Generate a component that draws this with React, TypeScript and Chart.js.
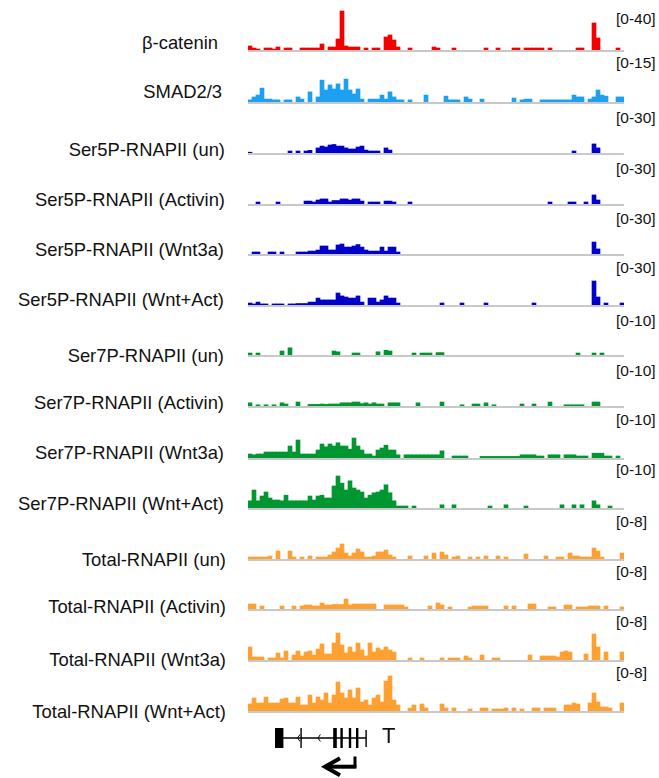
import React, { useEffect, useRef } from "react";
import { Chart, registerables } from "chart.js";
Chart.register(...registerables);

// ---------- data ----------
const NBINS = 94; // genomic bins across the locus
const BINS = Array.from({ length: NBINS }, (_, i) => String(i));

type Pair = [number, number];

const BCAT: Pair[] = [[0,4],[1,2],[2,1],[4,2],[5,2],[6,1],[7,3],[9,2],[10,2],[13,2],[14,2],[15,2],[16,2],[17,2],[18,6],[20,3],[21,3],[22,11],[23,39],[24,4],[25,3],[26,3],[27,3],[29,2],[31,2],[32,2],[34,13],[35,15],[36,10],[37,3],[40,2],[46,3],[47,2],[51,2],[59,2],[62,2],[66,2],[67,2],[69,2],[70,2],[71,2],[72,2],[73,2],[75,2],[82,2],[83,2],[86,27],[87,12],[92,2]];
const SMAD: Pair[] = [[0,0.8],[1,1.9],[2,2.6],[3,5.2],[4,1.1],[5,1.1],[6,0.8],[7,0.8],[9,0.8],[10,0.8],[12,1.9],[13,1.1],[15,3.8],[17,1.9],[18,8.2],[19,4.5],[20,6.4],[21,4.9],[22,6.8],[23,4.5],[24,8.6],[25,4.5],[26,3.0],[27,4.9],[28,1.1],[30,1.1],[31,1.1],[32,1.1],[33,2.6],[34,1.1],[35,3.8],[36,1.9],[37,0.8],[38,0.8],[40,0.8],[44,2.6],[49,2.2],[50,0.8],[51,0.8],[52,0.8],[54,1.9],[55,1.1],[58,1.1],[66,1.5],[68,0.8],[69,1.1],[70,1.1],[73,0.8],[74,0.8],[75,0.8],[76,0.8],[77,0.8],[78,0.8],[79,0.8],[80,0.8],[81,2.6],[82,1.9],[83,1.9],[85,1.1],[86,1.9],[87,4.5],[88,2.6],[89,2.2],[92,1.9],[93,1.9]];
const SER5_UN: Pair[] = [[0,0.6],[10,1.5],[12,1.5],[14,1.5],[15,2],[17,3.8],[18,5.2],[19,4.5],[20,6],[21,6.4],[22,5.2],[23,5.2],[24,3.8],[25,3],[26,3],[27,4.5],[28,5.2],[29,2.2],[30,1.5],[31,1.5],[32,1.5],[34,3.8],[35,2.2],[81,1.5],[86,6.8],[87,3.8]];
const SER5_ACT: Pair[] = [[2,1.5],[7,1.5],[14,2.2],[15,2.2],[16,1.5],[17,3],[18,3.8],[19,3.8],[20,1.5],[21,2.6],[22,2.6],[23,3.8],[24,3.8],[25,3],[26,3.8],[27,3.8],[28,2.2],[30,1.5],[31,1.5],[32,1.5],[34,2.2],[35,2.2],[36,1.5],[40,1.5],[75,1.5],[80,1.5],[81,1.5],[84,1.5],[86,6.8],[87,3]];
const SER5_WNT: Pair[] = [[1,1.5],[2,1.5],[5,1.5],[6,1.5],[8,1.5],[12,1.5],[13,1.5],[14,1.5],[15,2.2],[16,2.2],[17,3],[18,6],[19,6],[20,3],[21,3],[22,6.8],[23,7.5],[24,5.2],[25,5.2],[26,6],[27,7.1],[28,5.2],[29,3],[30,2.2],[31,2.2],[32,2.2],[33,5.2],[34,2.2],[35,5.2],[36,5.2],[37,1.5],[86,9],[87,3.8]];
const SER5_WA: Pair[] = [[0,1.5],[1,0.8],[2,2.2],[3,0.8],[4,0.8],[6,0.8],[7,0.8],[8,0.8],[10,0.8],[11,0.8],[12,1.1],[13,1.1],[14,1.1],[15,2.2],[16,2.2],[17,5.2],[18,3.8],[19,3.8],[20,3.8],[21,3.8],[22,9],[23,6.8],[24,6],[25,5.2],[26,5.2],[27,6.8],[28,2.2],[30,5.2],[31,5.2],[32,2.2],[33,3.8],[34,6.8],[35,5.2],[36,5.2],[37,1.5],[48,1.5],[53,1.5],[59,1.5],[71,1.5],[86,18],[87,6],[89,1.5],[93,1.5]];
const SER7_UN: Pair[] = [[0,0.5],[2,0.5],[8,1],[10,1.8],[21,1],[22,0.8],[26,0.5],[27,0.5],[32,0.8],[34,1.2],[35,1],[41,0.5],[43,0.5],[44,0.5],[45,0.5],[47,0.6],[48,0.6],[82,0.5],[86,0.5],[88,0.5]];
const SER7_ACT: Pair[] = [[0,0.8],[2,0.3],[4,0.3],[6,0.3],[8,0.8],[9,0.5],[12,1],[15,0.4],[16,0.4],[17,0.4],[18,0.5],[19,0.4],[20,0.5],[21,0.5],[22,0.5],[23,0.8],[24,0.8],[25,0.8],[26,1],[27,1],[28,0.6],[29,0.8],[30,0.5],[31,0.8],[32,0.5],[33,0.5],[35,0.8],[36,0.8],[37,0.8],[42,0.8],[48,1],[53,0.3],[56,0.5],[57,0.5],[59,0.8],[61,0.3],[68,0.5],[71,0.5],[75,1],[79,0.3],[80,0.3],[81,0.3],[82,0.3],[83,0.3],[86,1],[87,1]];
const SER7_WNT: Pair[] = [[0,1],[1,0.8],[2,1],[3,1],[4,1.5],[5,1.5],[6,1.5],[7,1.5],[8,1.5],[9,1.5],[10,3],[11,1.5],[12,4.5],[13,1],[14,1],[15,1],[16,1],[17,2],[18,3.5],[19,2.8],[20,3.5],[21,3],[22,3.8],[23,3],[24,3],[25,2.2],[26,5],[27,3],[28,2],[29,1],[30,1],[31,0.5],[32,2],[33,2.5],[34,3.2],[35,2],[36,2],[37,0.8],[39,0.8],[40,0.8],[41,0.8],[42,0.8],[43,0.8],[44,0.8],[45,0.8],[46,0.8],[47,0.8],[48,1.8],[51,0.5],[52,0.5],[53,0.5],[54,0.5],[58,0.4],[59,0.4],[60,0.4],[61,0.4],[62,0.4],[63,0.4],[64,0.4],[65,0.4],[66,0.4],[67,0.4],[68,0.8],[69,0.8],[70,0.8],[71,0.8],[72,0.5],[73,0.5],[75,0.8],[76,0.8],[77,0.8],[79,0.8],[80,0.8],[81,0.8],[82,0.5],[83,0.5],[84,0.5],[86,1.2],[87,1.2],[88,1.2],[89,0.5],[90,0.5],[92,0.5]];
const SER7_WA: Pair[] = [[0,1.8],[1,4.5],[2,1.8],[3,3],[4,4],[5,2.5],[6,2],[7,2],[8,1.8],[9,3.2],[10,1.8],[11,1.8],[12,1.8],[13,1.8],[14,1.8],[15,3],[16,2],[17,3],[18,3.2],[19,2.5],[20,2.5],[21,5.5],[22,8],[23,6.2],[24,4.5],[25,6.8],[26,5],[27,4.5],[28,4],[29,2.5],[30,3.2],[31,3.8],[32,4],[33,4.5],[34,5.8],[35,3.8],[36,1.8],[37,0.5],[38,0.5],[39,0.5],[41,0.5],[48,0.8],[51,0.8],[60,0.5],[64,0.8],[69,0.5],[78,0.8],[81,0.8],[83,0.8],[86,1.8],[87,0.8],[90,0.5]];
const TOT_UN: Pair[] = [[0,0.4],[1,0.4],[2,0.4],[3,0.4],[4,0.4],[5,0.6],[7,1.6],[10,1.6],[11,0.4],[13,0.4],[15,0.6],[17,0.4],[18,0.4],[19,0.4],[20,0.8],[21,1.4],[22,2.2],[23,3],[24,1.2],[25,0.6],[26,1.2],[27,2],[28,1.4],[29,0.4],[30,0.4],[31,0.6],[32,1.4],[33,1.4],[34,1.8],[35,0.8],[36,0.4],[40,0.6],[44,0.6],[46,1.2],[48,1.4],[49,0.8],[51,0.4],[52,0.6],[55,0.4],[57,0.4],[59,0.6],[62,0.6],[64,0.4],[69,1],[74,0.6],[77,0.4],[78,0.4],[80,1.2],[81,0.6],[82,0.6],[83,0.4],[84,0.4],[85,0.4],[86,2.2],[87,1.6],[88,0.4],[93,1.2]];
const TOT_ACT: Pair[] = [[0,1],[1,1],[3,0.6],[8,0.6],[11,0.6],[13,0.6],[14,0.8],[15,0.8],[16,0.6],[17,0.6],[18,1.2],[19,0.8],[20,0.8],[21,0.9],[22,0.9],[23,0.9],[24,2],[25,0.8],[26,1],[27,1],[28,1],[29,1],[30,1],[31,1],[34,0.8],[35,0.8],[36,0.8],[37,0.8],[38,0.8],[39,0.4],[45,0.6],[47,1.2],[48,0.8],[50,0.4],[55,0.4],[56,0.6],[57,0.6],[58,0.6],[59,0.6],[64,0.6],[66,0.6],[70,1],[71,1],[75,0.4],[76,0.4],[79,0.8],[80,0.8],[82,0.4],[83,0.4],[84,0.4],[85,0.6],[86,0.6],[87,0.6],[89,0.6],[93,0.4]];
const TOT_WNT: Pair[] = [[0,2.6],[1,0.6],[2,0.6],[3,0.6],[5,0.4],[6,0.4],[7,1.4],[8,0.4],[9,1.8],[11,1],[12,1.8],[13,0.8],[14,1.6],[15,1.8],[16,1],[17,2.2],[18,3.2],[19,1.2],[20,1.2],[21,3.4],[22,5.4],[23,3],[24,1.4],[25,2.6],[26,1.6],[27,3.4],[28,2],[29,0.8],[30,3.4],[31,1.6],[32,2.4],[33,2],[34,2.6],[35,2],[36,1.6],[40,0.4],[43,0.4],[48,0.4],[50,0.4],[51,0.4],[52,0.4],[54,0.8],[55,0.4],[58,1],[61,0.4],[62,0.4],[70,1],[73,0.8],[74,0.8],[75,0.8],[76,0.8],[77,0.6],[78,1.6],[79,1.8],[80,1.6],[84,1.2],[86,5.2],[87,2.6],[89,1.6],[93,1.6]];
const TOT_WA: Pair[] = [[0,1.4],[1,2.6],[2,1.6],[3,1.6],[4,2.8],[5,1.6],[6,1.6],[7,1.6],[8,2.4],[9,2.6],[10,1.6],[11,1.6],[12,2.8],[13,1.2],[14,1.2],[15,3.2],[16,1.6],[17,2.8],[18,2.2],[19,3.6],[20,1.6],[21,3.2],[22,5.8],[23,3.6],[24,2.6],[25,4.2],[26,2.6],[27,4.6],[28,1.8],[29,2.2],[30,1.2],[31,2.6],[32,3.2],[33,1.8],[34,6],[35,7],[36,2.2],[37,1.2],[40,0.6],[41,1.2],[43,1.4],[44,0.6],[48,1.4],[49,0.6],[51,0.6],[55,0.4],[58,0.6],[59,0.6],[61,0.4],[62,0.4],[63,0.4],[64,0.6],[66,0.6],[68,0.4],[71,0.6],[72,0.6],[74,0.6],[75,0.6],[76,0.6],[79,1.2],[80,1.2],[81,1.6],[82,1.4],[85,1.6],[86,3.6],[87,1.8],[88,0.8],[89,0.8],[90,0.6],[93,1.6]];

const TRACK_NAMES = [
  "β-catenin", "SMAD2/3",
  "Ser5P-RNAPII (un)", "Ser5P-RNAPII (Activin)", "Ser5P-RNAPII (Wnt3a)", "Ser5P-RNAPII (Wnt+Act)",
  "Ser7P-RNAPII (un)", "Ser7P-RNAPII (Activin)", "Ser7P-RNAPII (Wnt3a)", "Ser7P-RNAPII (Wnt+Act)",
  "Total-RNAPII (un)", "Total-RNAPII (Activin)", "Total-RNAPII (Wnt3a)", "Total-RNAPII (Wnt+Act)",
];
const TRACK_DATA = [BCAT, SMAD, SER5_UN, SER5_ACT, SER5_WNT, SER5_WA, SER7_UN, SER7_ACT, SER7_WNT, SER7_WA, TOT_UN, TOT_ACT, TOT_WNT, TOT_WA];
const TRACK_MAX = [40, 15, 30, 30, 30, 30, 10, 10, 10, 10, 8, 8, 8, 8];
const RANGE_LABELS = TRACK_MAX.map((m) => `[0-${m}]`);

// gene model (T), in bin coordinates
const GENE_BACKBONE = [6.75, 29.6];
const GENE_EXONS: [number, number][] = [[6.75, 8.85], [13.1, 13.45], [21.3, 22.2], [23.1, 23.7], [25.2, 25.8], [27.0, 27.6]];
const GENE_END: [number, number] = [29.35, 29.7];
const GENE_CHEVRONS = [12.4, 17.5];
const TSS_X = 26.75;
const ARROW_TIP_X = 19.25;

// ---------- styling / layout ----------
const COLORS = [
  "rgb(245,0,0)", "rgb(30,160,240)",
  "rgb(0,0,200)", "rgb(0,0,200)", "rgb(0,0,200)", "rgb(0,0,200)",
  "rgb(0,150,50)", "rgb(0,150,50)", "rgb(0,150,50)", "rgb(0,150,50)",
  "rgb(255,160,50)", "rgb(255,160,50)", "rgb(255,160,50)", "rgb(255,160,50)",
];
const BASELINES = [50, 101.5, 153, 204, 254, 305, 355, 405.5, 458, 508, 559, 609, 660, 711];
const NAME_Y = [43, 92, 150, 200, 250, 300, 356, 403, 453, 504, 560, 607, 660, 712];
const NAME_RIGHT = [218, 222, 225, 225, 224, 224, 224, 224, 224, 224, 226, 226, 226, 226];
const RANGE_Y = [19, 63, 118, 169, 219, 268, 321, 371, 420, 470, 522, 572, 622, 673];
const TRACK_LEFT = 248;
const TRACK_W = 376;
const TRACK_H = 40;
const FONT = '"Liberation Sans", Arial, Helvetica, sans-serif';

function dense(pairs: Pair[]): (number | null)[] {
  const out: (number | null)[] = new Array(NBINS).fill(null);
  for (const [i, v] of pairs) out[i] = v;
  return out;
}

const baselinePlugin = {
  id: "baseline",
  beforeDatasetsDraw(chart: any) {
    const { ctx, chartArea } = chart;
    ctx.save();
    ctx.fillStyle = "rgb(200,200,200)";
    ctx.fillRect(chartArea.left, chartArea.bottom, chartArea.right - chartArea.left, 2);
    ctx.restore();
  },
};

function Track({ idx }: { idx: number }) {
  const ref = useRef<HTMLCanvasElement>(null);
  useEffect(() => {
    const chart = new Chart(ref.current!, {
      type: "bar",
      data: {
        labels: BINS,
        datasets: [{
          data: dense(TRACK_DATA[idx]),
          backgroundColor: COLORS[idx],
          borderWidth: 0,
          barPercentage: 1,
          categoryPercentage: 1,
        }],
      },
      options: {
        animation: false,
        responsive: false,
        events: [],
        layout: { padding: { top: 0, bottom: 2, left: 0, right: 0 } },
        plugins: { legend: { display: false }, tooltip: { enabled: false } },
        scales: {
          x: { display: false },
          y: { display: false, min: 0, max: TRACK_MAX[idx] },
        },
      },
      plugins: [baselinePlugin],
    });
    return () => chart.destroy();
  }, [idx]);
  return (
    <canvas
      ref={ref}
      width={TRACK_W}
      height={TRACK_H + 2}
      style={{ position: "absolute", left: TRACK_LEFT, top: BASELINES[idx] - TRACK_H, width: TRACK_W, height: TRACK_H + 2 }}
    />
  );
}

function GeneModel() {
  const ref = useRef<HTMLCanvasElement>(null);
  useEffect(() => {
    const pxPerUnit = TRACK_W / NBINS;
    const line = (pts: { x: number; y: number }[], w: number) => ({
      data: pts,
      showLine: true,
      borderColor: "#000",
      backgroundColor: "#000",
      borderWidth: w,
      pointRadius: 0,
      borderCapStyle: "butt" as const,
      borderJoinStyle: "miter" as const,
      fill: false,
      tension: 0,
    });
    const datasets: any[] = [];
    datasets.push(line([{ x: GENE_BACKBONE[0], y: 20 }, { x: GENE_BACKBONE[1], y: 20 }], 1.3));
    for (const [s, e] of GENE_EXONS) {
      const c = (s + e) / 2;
      datasets.push(line([{ x: c, y: 10 }, { x: c, y: 30 }], (e - s) * pxPerUnit));
    }
    {
      const c = (GENE_END[0] + GENE_END[1]) / 2;
      datasets.push(line([{ x: c, y: 12 }, { x: c, y: 29 }], (GENE_END[1] - GENE_END[0]) * pxPerUnit));
    }
    for (const cx of GENE_CHEVRONS) {
      datasets.push(line([{ x: cx + 0.6, y: 16.5 }, { x: cx, y: 20 }, { x: cx + 0.6, y: 23.5 }], 1));
    }
    datasets.push(line([{ x: TSS_X, y: 38.5 }, { x: TSS_X, y: 49.5 }], 3));
    datasets.push(line([{ x: TSS_X + 0.35, y: 48.7 }, { x: ARROW_TIP_X + 0.6, y: 48.7 }], 4));
    datasets.push(line([{ x: ARROW_TIP_X + 3.75, y: 40.3 }, { x: ARROW_TIP_X, y: 48.7 }, { x: ARROW_TIP_X + 3.75, y: 57.2 }], 4));

    const chart = new Chart(ref.current!, {
      type: "scatter",
      data: { datasets },
      options: {
        animation: false,
        responsive: false,
        events: [],
        layout: { padding: 0 },
        plugins: { legend: { display: false }, tooltip: { enabled: false } },
        scales: {
          x: { type: "linear", display: false, min: 0, max: NBINS },
          y: { type: "linear", display: false, min: 0, max: 60, reverse: true },
        },
      },
    });
    return () => chart.destroy();
  }, []);
  return (
    <canvas
      ref={ref}
      width={TRACK_W}
      height={60}
      style={{ position: "absolute", left: TRACK_LEFT, top: 718, width: TRACK_W, height: 60 }}
    />
  );
}

export default function App() {
  return (
    <div style={{ position: "absolute", left: 0, top: 0, width: 659, height: 778, background: "#fff", overflow: "hidden", fontFamily: FONT }}>
      {TRACK_NAMES.map((name, i) => (
        <div
          key={"n" + i}
          style={{
            position: "absolute", right: 659 - NAME_RIGHT[i], top: NAME_Y[i], transform: "translateY(-50%)",
            fontSize: 18.4, lineHeight: 1, whiteSpace: "nowrap", color: "#111",
          }}
        >
          {name}
        </div>
      ))}
      {RANGE_LABELS.map((lab, i) => (
        <div
          key={"r" + i}
          style={{
            position: "absolute", left: 616, top: RANGE_Y[i], transform: "translateY(-50%)",
            fontSize: 15.5, lineHeight: 1, whiteSpace: "nowrap", color: "#111",
          }}
        >
          {lab}
        </div>
      ))}
      {TRACK_NAMES.map((_, i) => (
        <Track key={"t" + i} idx={i} />
      ))}
      <GeneModel />
      <div style={{ position: "absolute", left: 382, top: 736, transform: "translateY(-50%)", fontSize: 22, lineHeight: 1, color: "#111" }}>T</div>
    </div>
  );
}
